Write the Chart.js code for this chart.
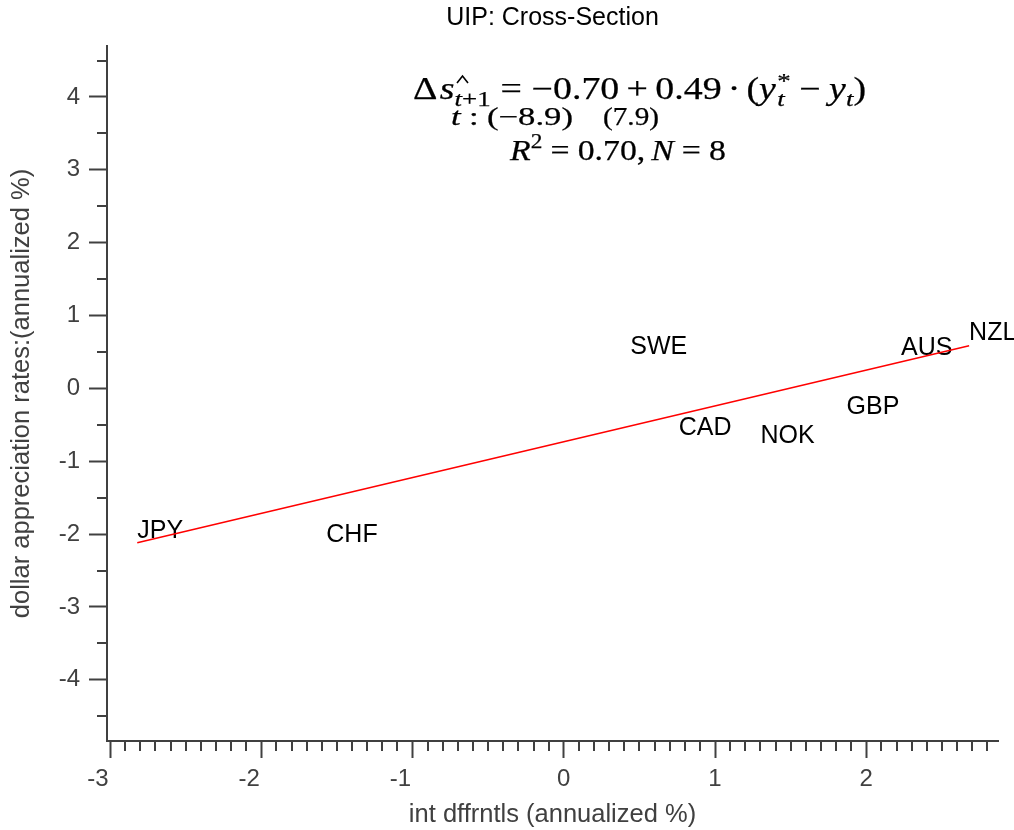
<!DOCTYPE html>
<html>
<head>
<meta charset="utf-8">
<script src="https://cdn.jsdelivr.net/npm/chart.js@4.4.0/dist/chart.umd.min.js"></script>
<style>
  html, body { margin: 0; padding: 0; background: #fff; }
</style>
</head>
<body>
<canvas id="myChart" width="1014" height="830"></canvas>
<script>
// cross-section: one point per currency
const currencies = ["JPY", "CHF", "SWE", "CAD", "NOK", "GBP", "AUS", "NZL"];
const intDiff = [-2.82, -1.57, 0.44, 0.76, 1.30, 1.87, 2.23, 2.68];
const appreciation = [-1.96, -2.01, 0.57, -0.55, -0.65, -0.26, 0.55, 0.76];

// fitted line end points
const fitX = [-2.82, 2.68];
const fitY = [-2.12, 0.585];

// regression output shown in the annotation
const coefs = ["\u22120.70", "0.49"];
const tStats = ["(\u22128.9)", "(7.9)"];
const rSquared = "0.70";
const nObs = "8";

const xTickValues = [-3, -2, -1, 0, 1, 2];
const xTickLabels = ["-3", "-2", "-1", "0", "1", "2"];
const yTickValues = [-4, -3, -2, -1, 0, 1, 2, 3, 4];
const yTickLabels = ["-4", "-3", "-2", "-1", "0", "1", "2", "3", "4"];

const axisColor = "#404040";
const sansFamily = "'Liberation Sans', Arial, sans-serif";
const serifFamily = "'Liberation Serif', 'DejaVu Serif', serif";

const minorTicks = {
  id: "minorTicks",
  afterDraw(chart) {
    const ctx = chart.ctx;
    const { x, y } = chart.scales;
    ctx.save();
    ctx.strokeStyle = axisColor;
    ctx.lineWidth = 2;
    ctx.beginPath();
    for (let k = Math.ceil(x.min * 10); k <= Math.floor(x.max * 10); k++) {
      if (k % 10 === 0) continue;
      const px = Math.round(x.getPixelForValue(k / 10));
      ctx.moveTo(px, x.top);
      ctx.lineTo(px, x.top + 10);
    }
    for (let k = Math.ceil(y.min * 2); k <= Math.floor(y.max * 2); k++) {
      if (k % 2 === 0) continue;
      const py = Math.round(y.getPixelForValue(k / 2));
      ctx.moveTo(y.right, py);
      ctx.lineTo(y.right - 10, py);
    }
    ctx.stroke();
    ctx.restore();
  },
};

// currency names sit at the points (left aligned, vertically centred)
const pointLabels = {
  id: "pointLabels",
  beforeDatasetsDraw(chart) {
    const meta = chart.getDatasetMeta(0);
    const ctx = chart.ctx;
    ctx.save();
    ctx.font = "25px " + sansFamily;
    ctx.fillStyle = "#000";
    ctx.textAlign = "left";
    ctx.textBaseline = "middle";
    meta.data.forEach((pt, i) => ctx.fillText(currencies[i], pt.x, pt.y));
    ctx.restore();
  },
};

// lay out a run of math pieces and squeeze it to a target width
function mathRun(ctx, x0, base, width, segs) {
  let w = 0;
  let lastX = 0;
  const laid = segs.map((s) => {
    ctx.font = (s.it ? "italic " : "") + s.size + "px " + serifFamily;
    const sw = ctx.measureText(s.t).width;
    let x;
    if (s.stack) {
      x = lastX;
      w = Math.max(w, x + sw);
    } else {
      x = w + (s.gap || 0);
      w = x + sw;
    }
    lastX = x;
    return Object.assign({}, s, { x: x });
  });
  const sx = width / w;
  ctx.save();
  ctx.translate(x0, base);
  ctx.scale(sx, 1);
  ctx.fillStyle = "#000";
  ctx.strokeStyle = "#000";
  ctx.lineWidth = 0.25;
  ctx.textAlign = "left";
  ctx.textBaseline = "alphabetic";
  laid.forEach((s) => {
    ctx.font = (s.it ? "italic " : "") + s.size + "px " + serifFamily;
    ctx.fillText(s.t, s.x, s.dy || 0);
    ctx.strokeText(s.t, s.x, s.dy || 0);
  });
  ctx.restore();
}

const equation = {
  id: "equation",
  afterDraw(chart) {
    const ctx = chart.ctx;
    mathRun(ctx, 413, 99, 453, [
      { t: "\u0394", size: 31 },
      { t: "s", size: 31, it: true, gap: 2 },
      { t: "t", size: 22, it: true, dy: 7 },
      { t: "+1", size: 22, dy: 7 },
      { t: "=", size: 31, gap: 8 },
      { t: coefs[0], size: 31, gap: 8 },
      { t: "+", size: 31, gap: 6 },
      { t: coefs[1], size: 31, gap: 6 },
      { t: "\u00b7", size: 31, gap: 5 },
      { t: "(", size: 31, gap: 5 },
      { t: "y", size: 31, it: true },
      { t: "*", size: 22, dy: -11, gap: 1 },
      { t: "t", size: 22, it: true, dy: 7, stack: true },
      { t: "\u2212", size: 31, gap: 7 },
      { t: "y", size: 31, it: true, gap: 7 },
      { t: "t", size: 22, it: true, dy: 7 },
      { t: ")", size: 31 },
    ]);
    // hat over s
    ctx.save();
    ctx.strokeStyle = "#000";
    ctx.lineWidth = 1.6;
    ctx.beginPath();
    ctx.moveTo(457, 83);
    ctx.lineTo(462.5, 76);
    ctx.lineTo(468, 83);
    ctx.stroke();
    ctx.restore();

    mathRun(ctx, 451, 125, 122, [
      { t: "t", size: 25, it: true },
      { t: ":", size: 25, gap: 6 },
      { t: tStats[0], size: 25, gap: 6 },
    ]);
    mathRun(ctx, 603, 125, 56, [{ t: tStats[1], size: 25 }]);

    mathRun(ctx, 510, 160, 216, [
      { t: "R", size: 29, it: true },
      { t: "2", size: 20, dy: -12 },
      { t: "=", size: 29, gap: 7 },
      { t: rSquared + ",", size: 29, gap: 7 },
      { t: "N", size: 29, it: true, gap: 5 },
      { t: "=", size: 29, gap: 7 },
      { t: nObs, size: 29, gap: 7 },
    ]);
  },
};

const labelFor = (values, labels) => (v) => {
  const i = values.indexOf(v);
  return i >= 0 ? labels[i] : "";
};

const data = {
  datasets: [
    {
      label: "currencies",
      data: intDiff.map((x, i) => ({ x: x, y: appreciation[i] })),
      pointRadius: 0,
      showLine: false,
    },
    {
      label: "fit",
      data: fitX.map((x, i) => ({ x: x, y: fitY[i] })),
      showLine: true,
      borderColor: "#ff0000",
      borderWidth: 1.5,
      pointRadius: 0,
      fill: false,
    },
  ],
};

const config = {
  type: "scatter",
  data: data,
  options: {
    responsive: false,
    animation: false,
    layout: { padding: { top: 0, left: 0, right: 16, bottom: 0 } },
    scales: {
      x: {
        type: "linear",
        position: "bottom",
        min: -3.02,
        max: 2.871,
        afterFit: (s) => {
          s.height = 89;
        },
        border: { display: true, color: axisColor, width: 2 },
        grid: {
          drawOnChartArea: false,
          drawTicks: true,
          tickLength: 17,
          tickWidth: 2,
          tickColor: axisColor,
        },
        ticks: {
          stepSize: 1,
          includeBounds: false,
          autoSkip: false,
          maxRotation: 0,
          padding: 7,
          color: axisColor,
          font: { family: sansFamily, size: 24 },
          // negative labels sit a little left of their tick, as in the original
          callback: (v) => {
            const s = labelFor(xTickValues, xTickLabels)(v);
            return v < 0 ? s + "\u2003" : s;
          },
        },
        title: {
          display: true,
          text: "int dffrntls (annualized %)",
          color: axisColor,
          font: { family: sansFamily, size: 25.5 },
          padding: { top: 0, bottom: 0 },
        },
      },
      y: {
        type: "linear",
        position: "left",
        min: -4.84,
        max: 4.7,
        afterFit: (s) => {
          s.width = 107;
        },
        border: { display: true, color: axisColor, width: 2 },
        grid: {
          drawOnChartArea: false,
          drawTicks: true,
          tickLength: 18,
          tickWidth: 2,
          tickColor: axisColor,
        },
        ticks: {
          stepSize: 1,
          includeBounds: false,
          autoSkip: false,
          padding: 9,
          color: axisColor,
          font: { family: sansFamily, size: 24 },
          callback: labelFor(yTickValues, yTickLabels),
        },
        title: {
          display: true,
          text: "dollar appreciation rates:(annualized %)",
          color: axisColor,
          font: { family: sansFamily, size: 25.5 },
          padding: { top: 7, bottom: 0 },
        },
      },
    },
    plugins: {
      legend: { display: false },
      tooltip: { enabled: false },
      title: {
        display: true,
        fullSize: false,
        text: "UIP: Cross-Section",
        color: "#000",
        font: { family: sansFamily, size: 25, weight: "normal" },
        padding: { top: 3, bottom: 13 },
      },
    },
  },
  plugins: [pointLabels, minorTicks, equation],
};

const myChart = new Chart(document.getElementById("myChart"), config);
</script>
</body>
</html>
